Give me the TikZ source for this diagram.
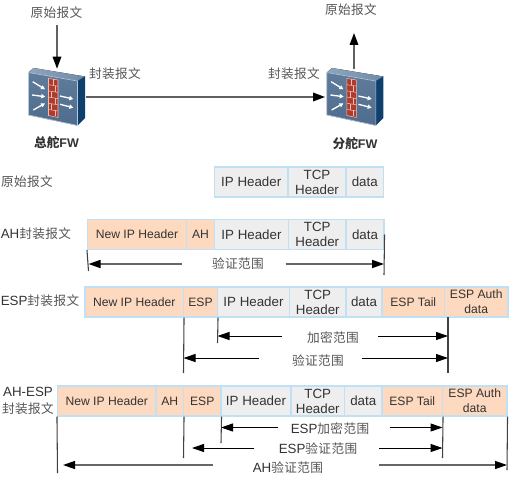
\documentclass[tikz,border=0pt]{standalone}
\usepackage{fontspec}
\setmainfont{Liberation Sans}
\newfontfamily\cjk{Noto Sans CJK SC}
\usetikzlibrary{arrows.meta}

\definecolor{cellline}{HTML}{BFE0F5}
\definecolor{newfill}{HTML}{FDD9BF}
\definecolor{oldfill}{HTML}{EEEEEE}
\definecolor{inktext}{HTML}{333333}
\definecolor{ziink}{HTML}{555555}
\definecolor{fwtopa}{HTML}{8FA5BE}
\definecolor{fwtopb}{HTML}{6F8AA8}
\definecolor{fwfronta}{HTML}{5F7C9C}
\definecolor{fwfrontb}{HTML}{4F6C8E}
\definecolor{fwside}{HTML}{0F3F6C}
\definecolor{fwedge}{HTML}{B9C8D8}
\definecolor{brick}{HTML}{B03A2E}
\definecolor{brickline}{HTML}{EBC1B4}

\newcommand{\zh}[1]{{\cjk\fontsize{9.5pt}{11pt}\selectfont\addfontfeatures{LetterSpace=3}\color{ziink}#1}}
\newcommand{\zhb}[1]{{\cjk\bfseries\fontsize{9.5pt}{11pt}\selectfont #1}}

% one packet field: style, name, left, right, middle y, text
\newcommand{\cellbox}[6]{%
  \pgfmathsetmacro{\cellw}{(#4-#3)*0.75}%
  \pgfmathsetmacro{\cellx}{(#3+#4)/2}%
  \node[#1, minimum width=\cellw pt] (#2) at (\cellx,#5) {#6};}

\tikzset{
  cell/.style={draw=cellline, line width=0.8pt, inner sep=0pt, minimum height=22.5pt,
    align=center, text=inktext},
  newcell/.style={cell, fill=newfill, font=\fontsize{9.1pt}{11.2pt}\selectfont},
  oldcell/.style={cell, fill=oldfill, font=\fontsize{10pt}{11.2pt}\selectfont},
  rowtext/.style={inner sep=0pt, align=center, text=inktext, font=\fontsize{10pt}{11.2pt}\selectfont},
  rangetext/.style={rowtext, text height=9pt, text depth=0pt},
  fwname/.style={rowtext, font=\fontsize{9.4pt}{11.2pt}\selectfont\bfseries},
  fwnode/.style={inner sep=0pt, minimum width=43pt, minimum height=42pt},
  tickline/.style={black!75, line width=0.8pt},
  flow/.style={-{Triangle[length=9pt,width=6.4pt,color=black]}, black!62, line width=1.2pt},
  spanline/.style={-{Triangle[length=9pt,width=6pt,color=black]}, black, line width=0.75pt},
  spangray/.style={-{Triangle[length=9pt,width=6pt,color=black]}, black!60, line width=1.2pt},
  pics/firewall/.style={code={
    % faces of the box
    \fill[left color=fwtopa, right color=fwtopb] (28.5,72.5) -- (33.5,68) -- (85,76.5) -- (77.5,81) -- cycle;
    \fill[top color=fwfronta, bottom color=fwfrontb] (28.5,72.5) -- (77.5,81) -- (77.5,125.5) -- (28.5,115) -- cycle;
    \fill[fwside] (77.5,81) -- (85,76.5) -- (85,118) -- (77.5,125.5) -- cycle;
    \draw[fwedge, line width=0.5pt] (28.5,72.5) -- (77.5,81) -- (77.5,125.5) -- (28.5,115) -- cycle;
    % brick wall
    \fill[brick] (48.5,78.5) -- (58,80) -- (58,117.5) -- (48.5,115.5) -- cycle;
    \draw[brickline, line width=0.4pt] (48.5,78.5) -- (58,80) -- (58,117.5) -- (48.5,115.5) -- cycle;
    \foreach \k in {1,...,5}
      \draw[brickline, line width=0.4pt] (48.5,78.5+6.2*\k) -- (58,80+6.2*\k);
    \foreach \k/\s in {0/53,1/55,2/51.5,3/55,4/51.5,5/55}
      \draw[brickline, line width=0.4pt] (\s,79.5+6.2*\k) -- (\s,85.5+6.2*\k);
    % white arrows
    \foreach \a/\b/\c/\d in {32.7/81.7/45/89.3, 32/95/45.3/96.7, 33.3/110/45/103.3, 60/96/73.3/99, 60/104.3/73.3/107.7}
      \draw[-{Triangle[length=3pt,width=3.2pt]}, white, line width=1pt] (\a,\b) -- (\c,\d);
  }}
}

\begin{document}
\begin{tikzpicture}[x=0.75pt,y=-0.75pt]
    \useasboundingbox (0,0) rectangle (509,477);

    % Top part: two firewalls
    \pic at (0,0) {firewall};
    \pic at (298.4,0) {firewall};
    \node[fwnode] (hqfw) at (57,97) {};
    \node[fwnode] (brfw) at (354,97) {};
    \node[rowtext] (hqin) at (56.5,13) {\zh{原始报文}};
    \node[rowtext] (brout) at (351,9.5) {\zh{原始报文}};
    \node[rowtext] (hqtag) at (115,73.5) {\zh{封装报文}};
    \node[rowtext] (brtag) at (294,73.5) {\zh{封装报文}};
    \node[fwname] (hqname) at (56.5,143) {\zhb{总舵}FW};
    \node[fwname] (brname) at (355,144) {\zhb{分舵}FW};
    \coordinate (hqstart) at (57,25);
    \coordinate (brend) at (354,33);
    \draw[flow] (hqstart) -- (hqfw.north);
    \draw[flow] (brfw.north) -- (brend);
    \draw[flow] (hqfw.east) -- (brfw.west);

    % Original packet
    \node[rowtext] (oldname) at (27,182) {\zh{原始报文}};
    \cellbox{oldcell}{oldip}{214.5}{288}{182}{IP Header}
    \cellbox{oldcell}{oldtcp}{288}{346}{182}{TCP\\Header}
    \cellbox{oldcell}{olddata}{346}{383.5}{182}{data}

    % AH packet
    \node[rowtext] (ahname) at (36,234) {AH\zh{封装报文}};
    \cellbox{newcell}{ahnew}{87.5}{186.5}{234.5}{New IP Header}
    \cellbox{newcell}{ahah}{186.5}{214.5}{234.5}{AH}
    \cellbox{oldcell}{ahip}{214.5}{288.5}{234.5}{IP Header}
    \cellbox{oldcell}{ahtcp}{288.5}{346}{234.5}{TCP\\Header}
    \cellbox{oldcell}{ahdata}{346}{384}{234.5}{data}
    \coordinate (ahleft) at (88.5,271);
    \coordinate (ahright) at (384,275);
    \draw[tickline] (ahnew.south west) -- (ahleft);
    \draw[tickline] (ahdata.east) -- (ahright);
    \node[rangetext, text height=6pt] (ahrange) at (238,264) {\zh{验证范围}};
    \draw[spangray] ([xshift=-22.5pt]ahrange.west) -- (ahleft |- ahrange);
    \draw[spangray] ([xshift=16pt]ahrange.east) -- (ahright |- ahrange);

    % ESP packet
    \node[rowtext] (espname) at (40,301) {ESP\zh{封装报文}};
    \cellbox{newcell}{espnew}{85}{183.5}{302}{New IP Header}
    \cellbox{newcell}{espesp}{183.5}{217.5}{302}{ESP}
    \cellbox{oldcell}{espip}{217.5}{289.5}{302}{IP Header}
    \cellbox{oldcell}{esptcp}{289.5}{346}{302}{TCP\\Header}
    \cellbox{oldcell}{espdata}{346}{382}{302}{data}
    \cellbox{newcell}{esptail}{382}{444.5}{302}{ESP Tail}
    \cellbox{newcell}{espauth}{444.5}{508}{302}{ESP Auth\\data}
    \coordinate (espauthl) at (183.5,373);
    \coordinate (espcryl) at (217.5,343);
    \coordinate (esptop) at (448,317);
    \coordinate (espr) at (448,373);
    \draw[tickline] (espnew.south east) -- (espauthl);
    \draw[tickline] (espesp.south east) -- (espcryl);
    \draw[tickline, line width=1.2pt] (esptop) -- (espr);
    \node[rangetext] (espcry) at (333,336) {\zh{加密范围}};
    \node[rangetext, text height=10.5pt] (espauthr) at (318,358) {\zh{验证范围}};
    \draw[spanline] ([xshift=-19pt]espcry.west) -- (espcryl |- espcry);
    \draw[spanline] ([xshift=14pt]espcry.east) -- (espr |- espcry);
    \draw[spanline] ([xshift=-25pt]espauthr.west) -- (espauthl |- espauthr);
    \draw[spanline] ([xshift=13pt]espauthr.east) -- (espr |- espauthr);

    % AH-ESP packet
    \node[rowtext] (bothname) at (28,401) {AH-ESP\\[1pt]\zh{封装报文}};
    \cellbox{newcell}{bothnew}{57.5}{156}{401}{New IP Header}
    \cellbox{newcell}{bothah}{156}{183.5}{401}{AH}
    \cellbox{newcell}{bothesp}{183.5}{221}{401}{ESP}
    \cellbox{oldcell}{bothip}{221}{291}{401}{IP Header}
    \cellbox{oldcell}{bothtcp}{291}{344.5}{401}{TCP\\Header}
    \cellbox{oldcell}{bothdata}{344.5}{382}{401}{data}
    \cellbox{newcell}{bothtail}{382}{442.5}{401}{ESP Tail}
    \cellbox{newcell}{bothauth}{442.5}{507}{401}{ESP Auth\\data}
    \coordinate (bothall) at (57.5,473);
    \coordinate (bothauthl) at (183.5,458);
    \coordinate (bothcryl) at (221,443);
    \coordinate (bothespr) at (442.5,458);
    \coordinate (bothallr) at (507,470);
    \coordinate (bothtipa) at (192,448);
    \coordinate (bothtipb) at (63,465);
    \draw[tickline] (bothnew.south west) -- (bothall);
    \draw[tickline] (bothah.south east) -- (bothauthl);
    \draw[tickline] (bothesp.south east) -- (bothcryl);
    \draw[tickline] (bothtail.south east) -- (bothespr);
    \draw[tickline] (bothauth.south east) -- (bothallr);
    \node[rangetext] (bothcry) at (330,427.5) {ESP\zh{加密范围}};
    \node[rangetext, text height=8pt] (bothauthr) at (318,448) {ESP\zh{验证范围}};
    \node[rangetext, text height=11pt] (bothrange) at (288,465) {AH\zh{验证范围}};
    \draw[spanline] ([xshift=-9pt]bothcry.west) -- (bothcryl |- bothcry);
    \draw[spanline] ([xshift=15pt]bothcry.east) -- (bothespr |- bothcry);
    \draw[spanline] ([xshift=-18pt]bothauthr.west) -- (bothtipa);
    \draw[spanline] ([xshift=16pt]bothauthr.east) -- (bothespr |- bothauthr);
    \draw[spangray, line width=1pt] ([xshift=-30pt]bothrange.west) -- (bothtipb);
    \draw[spangray, line width=1pt] ([xshift=42pt]bothrange.east) -- (bothallr |- bothrange);
\end{tikzpicture}
\end{document}
